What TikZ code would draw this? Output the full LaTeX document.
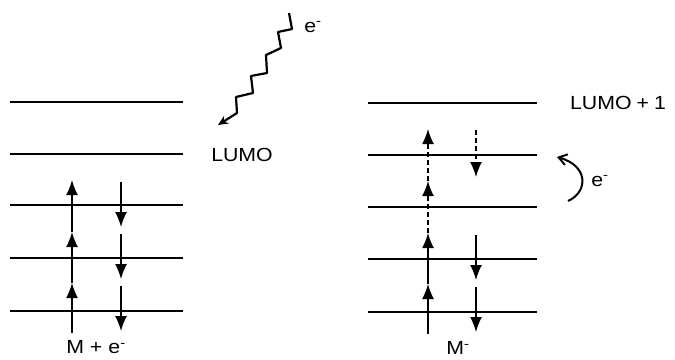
\documentclass[tikz,border=0pt]{standalone}
\usepackage{fontspec}
\setmainfont{Liberation Sans}[FakeStretch=1.12]
\usetikzlibrary{arrows.meta}

\begin{document}
\begin{tikzpicture}[x=1pt, y=-1pt, font=\fontsize{19}{21}\selectfont,
    level/.style={line width=1.7pt},
    spinup/.style={line width=1.4pt, -{Latex[length=15pt,width=12pt]}},
    spindn/.style={line width=1.4pt, -{Latex[length=15pt,width=12pt]}},
    hidden/.style={dash pattern=on 5pt off 3pt},
    hop/.style={line width=2pt, -{Straight Barb[length=8pt,width=11pt]}}]
      \useasboundingbox (0,0) rectangle (675,359);
      % levels, M + e-
      \draw[level] (10,102) -- (183,102);
      \draw[level] (10,154) -- (183,154);
      \draw[level] (10,205) -- (183,205);
      \draw[level] (10,258) -- (183,258);
      \draw[level] (10,311) -- (183,311);
      % levels, M-
      \draw[level] (368,103) -- (537,103);
      \draw[level] (368,155) -- (537,155);
      \draw[level] (368,207) -- (537,207);
      \draw[level] (368,259) -- (537,259);
      \draw[level] (368,312) -- (537,312);
      % spins, M + e-
      \draw[spinup] (72,333) -- (72,283);
      \draw[spinup] (72,283) -- (72,232);
      \draw[spinup] (72,232) -- (72,180);
      \draw[spindn] (121,182) -- (121,227);
      \draw[spindn] (121,234) -- (121,279);
      \draw[spindn] (121,286) -- (121,331);
      % spins, M-
      \draw[spinup] (428,334) -- (428,284);
      \draw[spinup] (428,284) -- (428,233);
      \draw[spinup, hidden] (428,233) -- (428,181);
      \draw[spinup, hidden] (428,181) -- (428,129);
      \draw[spindn, hidden] (476,130) -- (476,177);
      \draw[spindn] (476,235) -- (476,280);
      \draw[spindn] (476,287) -- (476,332);

      \node (lumo) at (242,155) {LUMO};
      \node (lumoOne) at (618,103) {LUMO\hspace{5pt}+\hspace{5pt}1};
      \node (eIn) at (313,27) {e\textsuperscript{-}};
      \node (eHop) at (600,181) {e\textsuperscript{-}};
      \node (mAdd) at (96,347) {M\hspace{6pt}+\hspace{6pt}e\textsuperscript{-}};
      \node (mAnion) at (458,348) {M\textsuperscript{-}};

      \coordinate (zigStart) at (289,13);
      \coordinate (zigEnd) at (218,125);
      \draw[line width=2.2pt, -{Stealth[length=10pt,width=9pt]}, line join=round]
        (zigStart) -- (292,29) -- (278,32) -- (281,48) -- (266,55) -- (267,73)
        -- (251,76) -- (253,93) -- (236,97) -- (237,113) -- (zigEnd);

      \coordinate (hopStart) at (568,201);
      \coordinate (hopEnd) at (557,157);
      \draw[hop] (hopStart) .. controls (588,192) and (589,166) .. (hopEnd);
    \end{tikzpicture}
\end{document}
